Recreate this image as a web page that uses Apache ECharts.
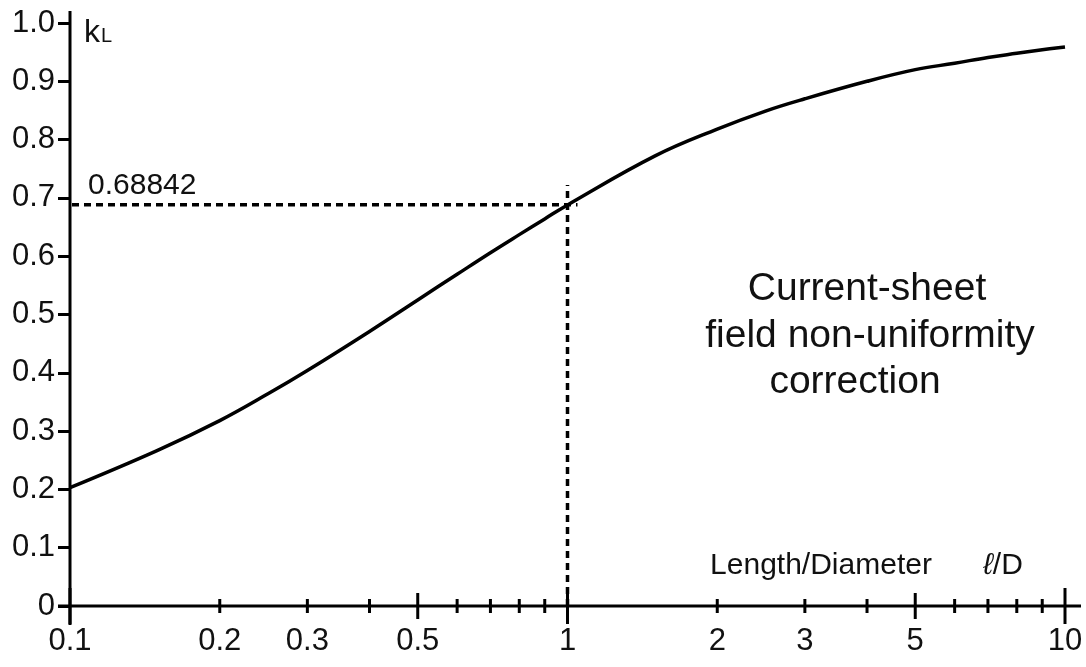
<!DOCTYPE html>
<html>
<head>
<meta charset="utf-8">
<script src="https://cdn.jsdelivr.net/npm/echarts@6/dist/echarts.min.js"></script>
<style>
  html, body { margin: 0; padding: 0; background: #fff; }
  #chart { width: 1086px; height: 667px; }
</style>
</head>
<body>
<div id="chart"></div>
<script>
// Nagaoka coefficient k_L of a solenoid versus its length/diameter ratio
const lengthRatio = [0.1, 0.15, 0.2, 0.25, 0.3, 0.4, 0.5, 0.6, 0.7, 0.8, 0.9, 1, 1.5, 2, 2.5, 3, 4, 5, 6, 7, 8, 9, 10];
const kL = [0.203, 0.267, 0.318, 0.364, 0.404, 0.471, 0.525, 0.569, 0.606, 0.637, 0.664, 0.688, 0.772, 0.818, 0.849, 0.870, 0.900, 0.920, 0.931, 0.941, 0.948, 0.954, 0.959];

// x axis (log) tick positions and labels
const xTicks = [0.1, 0.2, 0.3, 0.4, 0.5, 0.6, 0.7, 0.8, 0.9, 1, 2, 3, 4, 5, 6, 7, 8, 9, 10];
const xLabelValues = [0.1, 0.2, 0.3, 0.5, 1, 2, 3, 5, 10];
const xLabelTexts = ['0.1', '0.2', '0.3', '0.5', '1', '2', '3', '5', '10'];

// y axis range and tick step
const yMin = 0, yMax = 1, yStep = 0.1;
const xMin = 0.1, xMax = 10;

// read-off at l/D = 1
const readX = 1;
const readK = 0.68842;
const readLabel = '0.68842';
const readTopK = 0.722;

const FONT = '"Liberation Sans", Arial, Helvetica, sans-serif';
const INK = '#111';

const chart = echarts.init(document.getElementById('chart'), null, { renderer: 'canvas' });

// half-length of an x tick: decades longest, fives medium, the rest short
function tickHalf(v) {
  const lg = Math.log10(v);
  if (Math.abs(lg - Math.round(lg)) < 1e-9) return 18;
  const m = v / Math.pow(10, Math.floor(lg + 1e-9));
  if (Math.abs(m - 5) < 1e-9) return 13;
  return 7;
}

const option = {
  animation: false,
  backgroundColor: '#fff',
  grid: { left: 70, right: 21, top: 23, bottom: 61 },
  xAxis: {
    type: 'log', logBase: 10, min: xMin, max: xMax,
    axisLine: { show: false }, axisTick: { show: false },
    axisLabel: { show: false }, splitLine: { show: false }
  },
  yAxis: {
    type: 'value', min: yMin, max: yMax, interval: yStep,
    axisLine: { show: false },
    axisTick: { show: true, inside: false, length: 12, lineStyle: { color: '#000', width: 3 } },
    axisLabel: {
      margin: 15, fontSize: 31, fontFamily: FONT, color: INK,
      formatter: v => (Math.abs(v) < 1e-9 ? '0' : v.toFixed(1))
    },
    splitLine: { show: false }
  },
  graphic: [
    {
      type: 'text', left: 84, top: 17,
      style: {
        text: '{k|k}{s|L}', fill: INK,
        rich: {
          k: { fontSize: 32, fontFamily: FONT, fill: INK },
          s: { fontSize: 20, fontFamily: FONT, fill: INK, padding: [7, 0, 0, 1] }
        }
      }
    },
    {
      type: 'text', x: 867, y: 289,
      style: { text: 'Current-sheet', font: '39px ' + FONT, fill: INK, align: 'center', verticalAlign: 'middle' }
    },
    {
      type: 'text', x: 870, y: 336,
      style: { text: 'field non-uniformity', font: '39px ' + FONT, fill: INK, align: 'center', verticalAlign: 'middle' }
    },
    {
      type: 'text', x: 855, y: 382,
      style: { text: 'correction', font: '39px ' + FONT, fill: INK, align: 'center', verticalAlign: 'middle' }
    },
    {
      type: 'text', x: 821, y: 566,
      style: { text: 'Length/Diameter', font: '30px ' + FONT, fill: INK, align: 'center', verticalAlign: 'middle' }
    },
    {
      type: 'text', x: 1003, y: 566,
      style: {
        text: '{i|ℓ}{n|/D}', align: 'center', verticalAlign: 'middle',
        rich: {
          i: { fontSize: 30, fontFamily: FONT, fontStyle: 'italic', fill: INK },
          n: { fontSize: 30, fontFamily: FONT, fill: INK }
        }
      }
    }
  ],
  series: [
    {
      // dashed read-off lines
      type: 'custom', name: 'readout', z: 2, silent: true,
      data: [[readX, readK]],
      renderItem: function (params, api) {
        const p = api.coord([api.value(0), api.value(1)]);
        const left = api.coord([xMin, api.value(1)]);
        const base = api.coord([api.value(0), yMin]);
        const top = api.coord([api.value(0), readTopK]);
        const dash = { stroke: '#000', lineWidth: 3.5, lineDash: [7, 5] };
        return {
          type: 'group',
          children: [
            { type: 'line', shape: { x1: left[0] + 2, y1: p[1], x2: p[0] + 10, y2: p[1] }, style: dash },
            { type: 'line', shape: { x1: p[0], y1: base[1], x2: p[0], y2: top[1] }, style: dash },
            {
              type: 'text', x: left[0] + 18, y: p[1] - 4,
              style: { text: readLabel, font: '30px ' + FONT, fill: INK, align: 'left', verticalAlign: 'bottom' }
            }
          ]
        };
      }
    },
    {
      // axis lines
      type: 'custom', name: 'axes', z: 3, silent: true,
      data: [[xMin, yMin]],
      renderItem: function (params, api) {
        const o = api.coord([xMin, yMin]);
        const xe = api.coord([xMax, yMin]);
        const yt = api.coord([xMin, yMax]);
        const st = { stroke: '#000', lineWidth: 3 };
        return {
          type: 'group',
          children: [
            { type: 'line', shape: { x1: o[0] - 12, y1: o[1], x2: xe[0] + 16, y2: o[1] }, style: st },
            { type: 'line', shape: { x1: o[0], y1: o[1] + 19, x2: o[0], y2: yt[1] - 12 }, style: st }
          ]
        };
      }
    },
    {
      // x ticks
      type: 'custom', name: 'xticks', z: 3, silent: true,
      data: xTicks.map(v => [v, yMin]),
      renderItem: function (params, api) {
        const v = api.value(0);
        const p = api.coord([v, yMin]);
        const h = tickHalf(v);
        return {
          type: 'line',
          shape: { x1: p[0], y1: p[1] - h, x2: p[0], y2: p[1] + h },
          style: { stroke: '#000', lineWidth: 3 }
        };
      }
    },
    {
      // x tick labels
      type: 'custom', name: 'xlabels', z: 3, silent: true,
      data: xLabelValues.map(v => [v, yMin]),
      renderItem: function (params, api) {
        const p = api.coord([api.value(0), yMin]);
        return {
          type: 'text', x: p[0], y: p[1] + 20,
          style: { text: xLabelTexts[params.dataIndex], font: '31px ' + FONT, fill: INK, align: 'center', verticalAlign: 'top' }
        };
      }
    },
    {
      type: 'line', name: 'kL', z: 4,
      data: lengthRatio.map((x, i) => [x, kL[i]]),
      smooth: 0.4, showSymbol: false, symbol: 'none',
      lineStyle: { color: '#000', width: 3.5 }
    }
  ]
};

chart.setOption(option);
</script>
</body>
</html>
